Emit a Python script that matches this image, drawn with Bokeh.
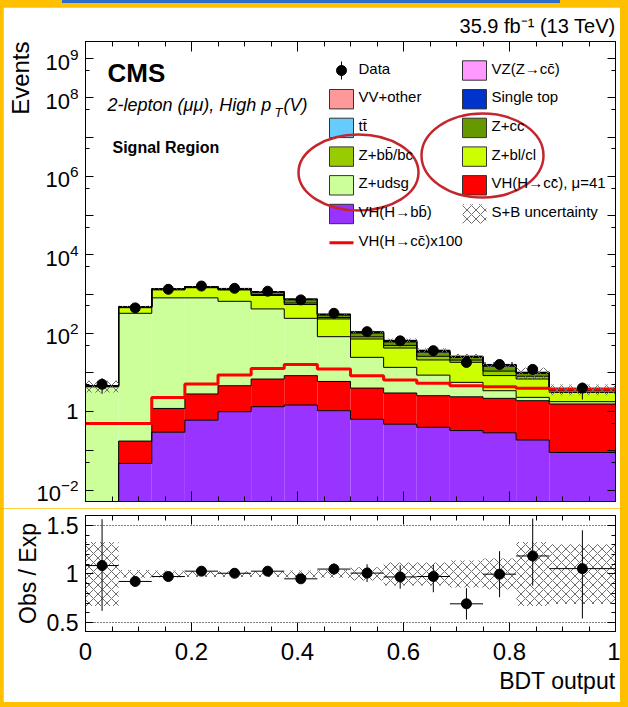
import numpy as np
from bokeh.plotting import figure
from bokeh.layouts import column
from bokeh.models import (Range1d, FixedTicker, SingleIntervalTicker, LinearAxis, LinearScale,
                          Label, Span, Div, CustomJSTickFormatter, Title)
from bokeh.embed import file_html
from bokeh.resources import INLINE

FONT = "Liberation Sans"

# BDT output binning
bin_edges = [0.0, 0.0625, 0.125, 0.1875, 0.25, 0.3125, 0.375, 0.4375,
             0.5, 0.5625, 0.625, 0.6875, 0.75, 0.8125, 0.875, 1.0]

# Expected yields per bin, stacked bottom to top
vh_bb      = [0.0, 0.048, 0.30, 0.61, 1.0, 1.34, 1.48, 1.06, 0.64, 0.48, 0.40, 0.33, 0.29, 0.19, 0.091]
vh_cc_mu41 = [0.0, 0.13, 0.91, 2.22, 3.6, 5.46, 6.82, 4.84, 3.36, 2.52, 2.16, 2.07, 1.90, 1.72, 1.48]
z_udsg     = [4.3, 322.8, 798.8, 797.0, 648.0, 411.0, 232.0, 76.0, 20.3, 10.5, 6.0, 3.2, 1.24, 0.41, 0.23]
z_blcl     = [0.15, 126.0, 477.0, 650.0, 620.0, 500.0, 300.0, 150.0, 47.0, 28.5, 12.3, 12.6, 4.9, 4.5, 1.3]
z_bb       = [0.05, 8.0, 25.0, 30.0, 30.0, 60.0, 50.0, 20.0, 10.0, 7.0, 5.0, 2.5, 2.5, 1.2, 0.3]
z_cc       = [0.05, 16.0, 40.0, 55.0, 60.0, 135.0, 120.0, 40.0, 20.0, 11.0, 7.0, 3.5, 3.6, 1.5, 0.25]
ttbar      = [0.02, 3.0, 8.0, 12.0, 14.0, 15.0, 18.0, 6.0, 3.0, 2.0, 1.2, 0.6, 0.5, 0.2, 0.05]
single_top = [0.01, 1.0, 2.0, 3.0, 4.0, 4.0, 4.0, 2.0, 1.0, 0.6, 0.4, 0.2, 0.2, 0.1, 0.02]
vv_other   = [0.02, 3.0, 3.0, 4.0, 7.0, 12.0, 12.0, 6.0, 3.0, 2.5, 1.8, 0.7, 0.7, 0.2, 0.05]
vz_cc      = [0.0, 1.0, 0.8, 1.0, 2.0, 3.0, 3.0, 1.5, 0.7, 0.9, 0.7, 0.3, 0.2, 0.1, 0.02]

# VH(H->cc) scaled by 100, drawn unstacked
vh_cc_x100 = [0.5, 0.5, 2.3, 5.1, 8.6, 12.7, 15.9, 12.3, 8.3, 6.4, 5.3, 4.6, 4.35, 3.94, 3.8]

# Observed events and their error band
data    = [5, 444, 1320, 1600, 1400, 1180, 710, 323, 110, 64, 36, 18, 16, 12, 4]
data_lo = [2.85, 423, 1284, 1560, 1363, 1146, 683, 305, 100, 56, 30, 13.8, 12.2, 8.9, 2.05]
data_hi = [7.2, 465, 1356, 1640, 1437, 1214, 737, 341, 120, 72, 40.5, 22.2, 19.8, 15.9, 5.5]

# Relative S+B uncertainty per bin
sb_unc = [0.33, 0.04, 0.035, 0.03, 0.03, 0.03, 0.035, 0.04, 0.07, 0.12, 0.12, 0.14, 0.16, 0.33, 0.31]

colors = {
    "vh_bb": "#9933FF", "vh_cc": "#FF0000", "z_udsg": "#CCFF99", "z_blcl": "#CCFF00",
    "z_bb": "#99CC00", "z_cc": "#669900", "ttbar": "#66CCFF", "single_top": "#0033CC",
    "vv_other": "#FF9999", "vz_cc": "#FF99FF",
}
stack = [(vh_bb, "vh_bb"), (vh_cc_mu41, "vh_cc"), (z_udsg, "z_udsg"), (z_blcl, "z_blcl"),
         (z_bb, "z_bb"), (z_cc, "z_cc"), (ttbar, "ttbar"), (single_top, "single_top"),
         (vv_other, "vv_other"), (vz_cc, "vz_cc")]

lefts = bin_edges[:-1]
rights = bin_edges[1:]
centers = [(a + b) / 2 for a, b in zip(lefts, rights)]
FLOOR = 1e-4
HATCH = dict(fill_color=None, line_color=None, hatch_pattern="x", hatch_color="#6E6E6E",
             hatch_scale=9, hatch_weight=1)


def style_axis(ax, major, minor, size="22px", show=True, standoff=7):
    ax.axis_line_color = "black"
    ax.major_tick_line_color = "black"
    ax.minor_tick_line_color = "black"
    ax.major_tick_in = major
    ax.major_tick_out = 0
    ax.minor_tick_in = minor
    ax.minor_tick_out = 0
    ax.major_label_text_font = FONT
    ax.major_label_text_color = "black"
    if show:
        ax.major_label_text_font_size = size
        ax.major_label_standoff = standoff
    else:
        # mirrored tick marks only
        ax.formatter = CustomJSTickFormatter(code="return ''")
        ax.major_label_text_font_size = "1px"
        ax.major_label_standoff = 0


def side_title(text, size, align, standoff):
    return Title(text=text, text_font=FONT, text_font_size=size, text_font_style="normal",
                 text_color="black", align=align, standoff=standoff)


# ---------------- main panel ----------------
p1 = figure(width=617, height=501, x_range=Range1d(0, 1),
            y_range=Range1d(10 ** -2.29, 10 ** 9.44), y_axis_type="log",
            output_backend="svg", toolbar_location=None, title=None,
            min_border_left=82, min_border_right=5, min_border_top=34, min_border_bottom=7)
p1.margin = (4, 8, 0, 3)
p1.xgrid.visible = False
p1.ygrid.visible = False
p1.outline_line_color = "black"
p1.background_fill_color = "white"
p1.border_fill_color = "white"
# page-pixel coordinates for legend and header texts
p1.extra_x_ranges = {"px": Range1d(85, 615)}
p1.extra_y_ranges = {"py": Range1d(501, 41)}
p1.extra_x_scales = {"px": LinearScale()}
p1.extra_y_scales = {"py": LinearScale()}

x_ticker = SingleIntervalTicker(interval=0.2, num_minor_ticks=4)
log_ticker = FixedTicker(ticks=[10.0 ** k for k in range(-2, 10)],
                         minor_ticks=[5 * 10.0 ** k for k in range(-3, 9)])

p1.xaxis.ticker = x_ticker
style_axis(p1.xaxis[0], 10, 5, show=False)
p1.yaxis.ticker = log_ticker
style_axis(p1.yaxis[0], 8, 4)
p1.yaxis.major_label_overrides = {0.1: "", 1: "1", 10: "", 1000: "", 100000: "", 10000000: ""}

top_ax = LinearAxis(ticker=x_ticker)
style_axis(top_ax, 10, 5, show=False)
p1.add_layout(top_ax, "above")
right_ax = LinearAxis(ticker=log_ticker)
style_axis(right_ax, 8, 4, show=False)
p1.add_layout(right_ax, "right")

p1.add_layout(side_title("35.9 fb\u207b\u00b9 (13 TeV)", "20px", "right", 10), "above")
p1.add_layout(side_title("Events", "24px", "right", 0), "left")

# stacked backgrounds and signal
base = np.full(len(centers), FLOOR)
tops = []
for vals, key in stack:
    top = base + np.array(vals)
    p1.quad(left=lefts, right=rights, bottom=base, top=top,
            fill_color=colors[key], line_color=None)
    tops.append(top)
    base = top
total = base - FLOOR

for top in tops:
    p1.step(x=bin_edges, y=list(top) + [top[-1]], mode="after",
            line_color="black", line_width=1)

p1.step(x=bin_edges, y=vh_cc_x100 + [vh_cc_x100[-1]], mode="after",
        line_color="#FF0000", line_width=3)

unc = np.array(sb_unc)
p1.quad(left=lefts, right=rights, bottom=total * (1 - unc), top=total * (1 + unc), **HATCH)

p1.segment(x0=centers, y0=data_lo, x1=centers, y1=data_hi, line_color="black", line_width=1)
p1.scatter(x=centers, y=data, size=10, color="black")

# legend, laid out in page pixels
legend_cols = [
    (329, [("data", "Data", None),
           ("box", "VV+other", "vv_other"),
           ("box", "tt\u0304", "ttbar"),
           ("box", "Z+bb\u0304/bc", "z_bb"),
           ("box", "Z+udsg", "z_udsg"),
           ("box", "VH(H\u2192bb\u0304)", "vh_bb"),
           ("line", "VH(H\u2192cc\u0304)x100", "vh_cc")]),
    (462, [("box", "VZ(Z\u2192cc\u0304)", "vz_cc"),
           ("box", "Single top", "single_top"),
           ("box", "Z+cc", "z_cc"),
           ("box", "Z+bl/cl", "z_blcl"),
           ("box", "VH(H\u2192cc\u0304), \u03bc=41", "vh_cc"),
           ("hatch", "S+B uncertainty", None)]),
]
PX = dict(x_range_name="px", y_range_name="py")
for x0, entries in legend_cols:
    for i, (kind, text, key) in enumerate(entries):
        yc = 70 + 28.7 * i
        if kind == "box":
            p1.quad(left=[x0], right=[x0 + 24], top=[yc - 9.7], bottom=[yc + 9.7],
                    fill_color=colors[key], line_color="#333333", line_width=1, **PX)
        elif kind == "hatch":
            p1.quad(left=[x0], right=[x0 + 24], top=[yc - 9.7], bottom=[yc + 9.7],
                    **HATCH, **PX)
        elif kind == "line":
            p1.segment(x0=[x0], y0=[yc], x1=[x0 + 24], y1=[yc],
                       line_color=colors[key], line_width=3, **PX)
        else:
            p1.segment(x0=[x0 + 12], y0=[yc - 9], x1=[x0 + 12], y1=[yc + 9],
                       line_color="black", line_width=1, **PX)
            p1.scatter(x=[x0 + 12], y=[yc], size=10, color="black", **PX)
        p1.add_layout(Label(x=x0 + 29, y=yc + 6, text=text, text_font=FONT,
                            text_font_size="15px", text_color="black", **PX))

# ellipses around the Z+jets entries
p1.ellipse(x=[358, 482], y=[172, 155], width=[120, 122], height=[76, 84],
           fill_color=None, line_color="#C4262E", line_width=2.5, **PX)


def txt(x, y, s, size, style="normal"):
    p1.add_layout(Label(x=x, y=y, text=s, text_font=FONT, text_font_size=size,
                        text_font_style=style, text_color="black", **PX))


txt(107, 87, "CMS", "26px", "bold")
txt(107, 114, "2-lepton (\u03bc\u03bc), High p", "18px", "italic")
txt(274, 119, "T", "13px", "italic")
txt(283, 114, "(V)", "18px", "italic")
txt(112, 155, "Signal Region", "16px", "bold")

# ---------------- ratio panel ----------------
p2 = figure(width=617, height=194, x_range=p1.x_range, y_range=Range1d(0.407, 1.603),
            output_backend="svg", toolbar_location=None, title=None,
            min_border_left=82, min_border_right=5, min_border_top=7, min_border_bottom=71)
p2.margin = (0, 8, 5, 3)
p2.xgrid.visible = False
p2.ygrid.visible = False
p2.outline_line_color = "black"
p2.border_fill_color = "white"

rx_ticker = SingleIntervalTicker(interval=0.2, num_minor_ticks=4)
ry_ticker = SingleIntervalTicker(interval=0.5, num_minor_ticks=5)
p2.xaxis.ticker = rx_ticker
style_axis(p2.xaxis[0], 9, 5, size="24px", standoff=11)
p2.xaxis.major_label_overrides = {0: "0", 1: "1"}
p2.yaxis.ticker = ry_ticker
style_axis(p2.yaxis[0], 8, 4, size="23px")
p2.yaxis.major_label_overrides = {1: "1"}
r_top = LinearAxis(ticker=rx_ticker)
style_axis(r_top, 9, 5, show=False)
p2.add_layout(r_top, "above")
r_right = LinearAxis(ticker=ry_ticker)
style_axis(r_right, 8, 4, show=False)
p2.add_layout(r_right, "right")

p2.add_layout(side_title("Obs / Exp", "23px", "center", 5), "left")
p2.add_layout(side_title("BDT output", "23px", "right", 6), "below")

for level in (0.5, 1.5):
    p2.add_layout(Span(location=level, dimension="width", line_color="black",
                       line_width=1, line_dash="1 2"))

p2.quad(left=lefts, right=rights, bottom=1 - unc, top=1 + unc, **HATCH)

ratio = np.array(data) / total
ratio_lo = np.array(data_lo) / total
ratio_hi = np.array(data_hi) / total
p2.segment(x0=lefts, y0=ratio, x1=rights, y1=ratio, line_color="black", line_width=1)
p2.segment(x0=centers, y0=ratio_lo, x1=centers, y1=ratio_hi, line_color="black", line_width=1)
p2.scatter(x=centers, y=ratio, size=10, color="black")

top_bar = Div(text="", width=498, height=3, margin=(0, 0, 0, 62),
              styles={"background-color": "#2D6DCC"})

layout = column(top_bar, p1, p2, styles={"background-color": "#FFC000"})

open("out.html", "w").write(file_html(layout, INLINE, title="BDT output"))
